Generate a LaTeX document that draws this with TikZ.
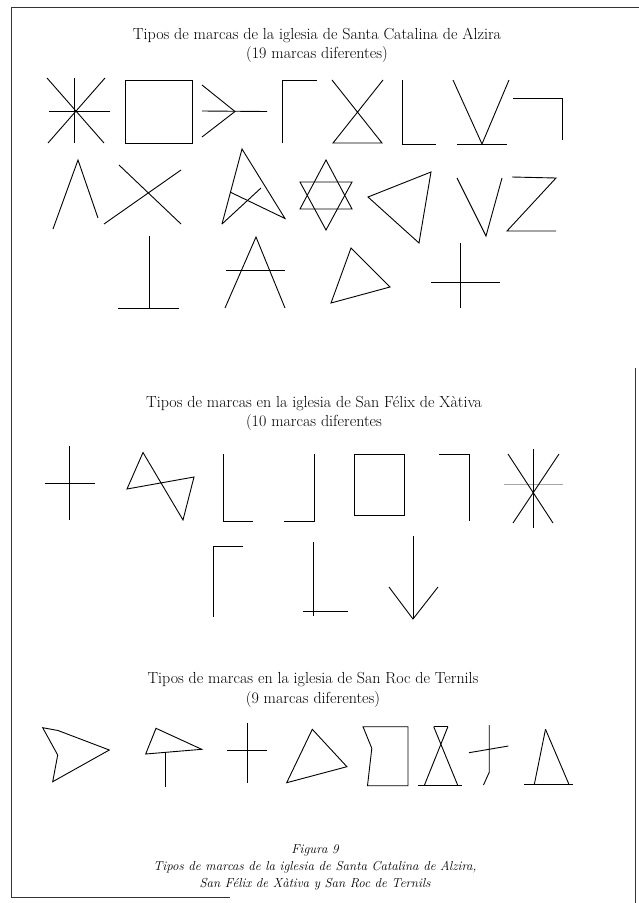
\documentclass[tikz,border=0pt]{standalone}
\begin{document}
\begin{tikzpicture}[x=1pt,y=-1pt,
  glyph/.style={line width=0.9pt,line join=miter,black},
  frameline/.style={line width=0.8pt,black!80},
  ttl/.style={font=\fontsize{16}{19}\selectfont,inner sep=0pt,anchor=center},
  captext/.style={font=\fontsize{13}{15}\selectfont\itshape,inner sep=0pt,anchor=center}]
\useasboundingbox (0,0) rectangle (639,903);
% frame
\draw[frameline] (11,897) -- (11,7) -- (639,7);
\draw[frameline] (11,897) -- (230,897);
\draw[frameline] (635,368) -- (635,903);

% ---------- Santa Catalina de Alzira ----------
\node[ttl] (t1a) at (317,35) {Tipos de marcas de la iglesia de Santa Catalina de Alzira};
\node[ttl] (t1b) at (317,55) {(19 marcas diferentes)};
% row 1
\draw[glyph] (49,111) -- (110,111);
\draw[glyph] (74,78) -- (74,143);
\draw[glyph] (48,143) -- (105,78);
\draw[glyph] (104,143) -- (47,78);
\draw[glyph] (125,80) rectangle (192,143);
\draw[glyph] (202,85) -- (235,111.5) -- (202,137);
\draw[glyph] (202,111) -- (267,111.5);
\draw[glyph] (282,143) -- (282,80) -- (317,80);
\draw[glyph] (332,80) -- (382,143) -- (333,143) -- (383,80);
\draw[glyph] (402,80) -- (402,144) -- (436,144);
\draw[glyph] (453,80) -- (482,144) -- (509,80);
\draw[glyph] (457,144) -- (507,144);
\draw[glyph] (513,98) -- (562,98) -- (562,140);
% row 2
\draw[glyph] (53,229) -- (78,160) -- (98,218);
\draw[glyph] (119,165) -- (181,224);
\draw[glyph] (181,170) -- (104,224);
\draw[glyph] (222,224) -- (242,149) -- (285,218.5) -- (230,192);
\draw[glyph] (222,224) -- (261,188);
\draw[glyph] (326,160) -- (300,209) -- (352,209) -- cycle;
\draw[glyph] (300,182) -- (352,182) -- (326,230) -- cycle;
\draw[glyph] (368,197) -- (431,172) -- (419,243) -- cycle;
\draw[glyph] (457,178) -- (486,236) -- (502,178);
\draw[glyph] (512,177) -- (556,178) -- (507,231) -- (556,231);
% row 3
\draw[glyph] (149,236) -- (149,308);
\draw[glyph] (118,308) -- (179,308);
\draw[glyph] (225,308) -- (256,237) -- (285,308);
\draw[glyph] (226,270) -- (285,270);
\draw[glyph] (351,248) -- (390,287) -- (331,303) -- cycle;
\draw[glyph] (460,243) -- (460,308);
\draw[glyph] (431,282) -- (500,282);

% ---------- San Felix de Xativa ----------
\node[ttl] (t2a) at (314,404) {Tipos de marcas en la iglesia de San Félix de Xàtiva};
\node[ttl] (t2b) at (314,423) {(10 marcas diferentes};
\draw[glyph] (69,446) -- (69,520);
\draw[glyph] (45,483) -- (95,483);
\draw[glyph] (143,452.5) -- (127,489) -- (194,477) -- (183,520) -- cycle;
\draw[glyph] (223,454) -- (223,521) -- (253,521);
\draw[glyph] (284,521) -- (314,521) -- (314,454);
\draw[glyph] (354,454) rectangle (404,515);
\draw[glyph] (439,454) -- (469,454) -- (469,521);
\draw[line width=0.6pt,black!35] (504,484) -- (563,484);
\draw[glyph] (533,449) -- (533,528);
\draw[glyph] (508,454) -- (553,523);
\draw[glyph] (559,454) -- (513,523);
\draw[glyph] (213,617) -- (213,546) -- (243,546);
\draw[glyph] (313,542) -- (313,616);
\draw[glyph] (303,611) -- (348,611);
\draw[glyph] (413,536) -- (413,619);
\draw[glyph] (389,587) -- (413,619) -- (438,587);

% ---------- San Roc de Ternils ----------
\node[ttl] (t3a) at (313,680) {Tipos de marcas en la iglesia de San Roc de Ternils};
\node[ttl] (t3b) at (313,699) {(9 marcas diferentes)};
\draw[glyph] (42.7,727.7) -- (58,730.5) -- (109.3,750) -- (52.7,781.7) -- (57.7,755) -- cycle;
\draw[glyph] (156,728.3) -- (201.7,749.3) -- (145.7,754) -- cycle;
\draw[glyph] (165.7,752.3) -- (165.7,786.7);
\draw[glyph] (247.7,722.7) -- (247.7,782.7);
\draw[glyph] (227.3,750) -- (266.7,750);
\draw[glyph] (312.3,729.3) -- (346.9,766.7) -- (286.7,782.7) -- cycle;
\draw[glyph] (367.5,785.7) -- (371.8,748.3) -- (363,726.7) -- (408,726.7) -- (408,785.7) -- cycle;
\draw[glyph] (433.7,726.7) -- (447.9,726.7);
\draw[glyph] (433.7,726.7) -- (457.9,785.7);
\draw[glyph] (447.9,726.7) -- (424.2,785.7);
\draw[glyph] (418.4,785.7) -- (461.7,785.7);
\draw[glyph] (489.2,725) -- (489.2,772.3) -- (483.5,785);
\draw[glyph] (469,752.7) -- (508.4,746);
\draw[glyph] (545.5,729.3) -- (534.4,784);
\draw[glyph] (545.5,729.3) -- (568.8,784);
\draw[glyph] (524.4,784) -- (573.4,784);

% ---------- caption ----------
\node[captext] (c1) at (315,850) {Figura 9};
\node[captext] (c2) at (315,867) {Tipos de marcas de la iglesia de Santa Catalina de Alzira,};
\node[captext] (c3) at (315,884) {San Félix de Xàtiva y San Roc de Ternils};
\end{tikzpicture}
\end{document}
